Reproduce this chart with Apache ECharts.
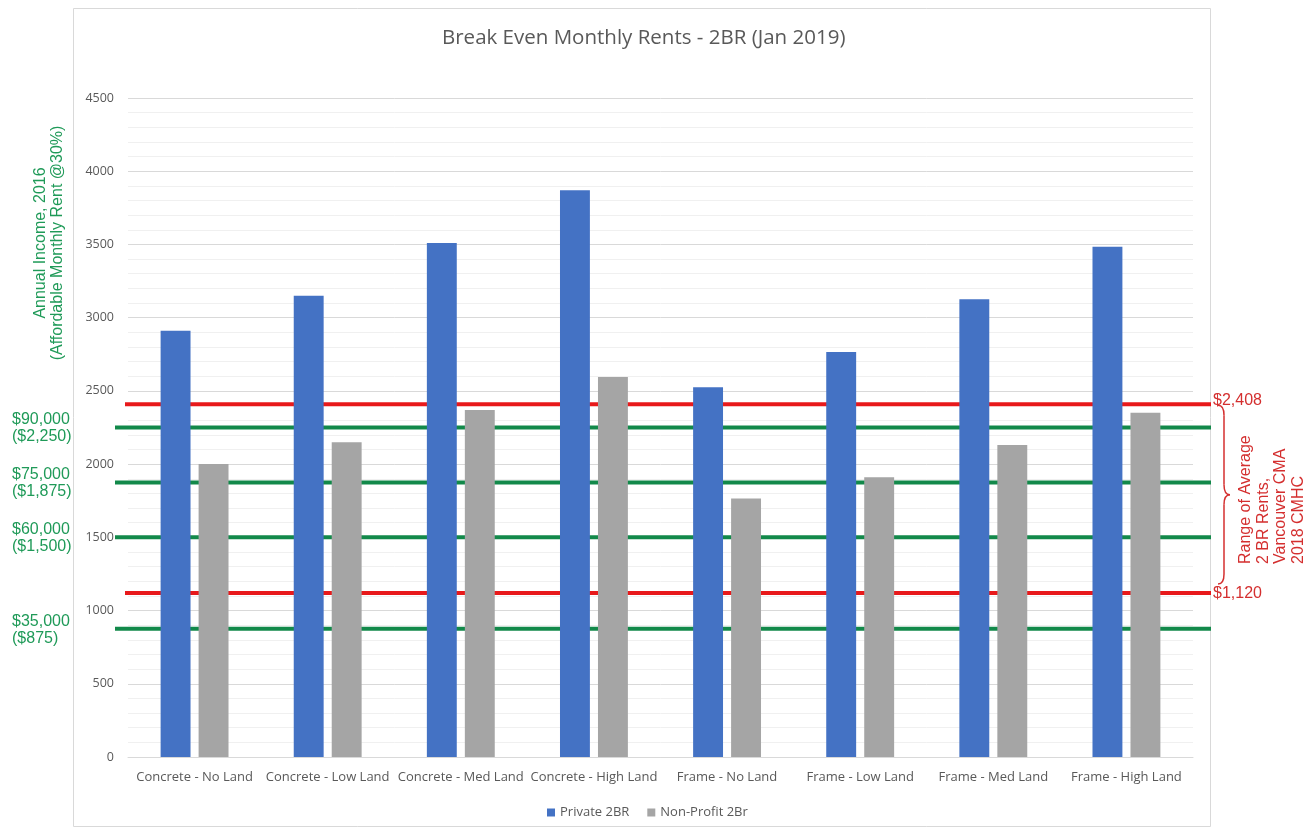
<!DOCTYPE html>
<html>
<head>
<meta charset="utf-8">
<title>Break Even Monthly Rents - 2BR (Jan 2019)</title>
<script src="https://cdn.jsdelivr.net/npm/echarts@6/dist/echarts.min.js"></script>
<style>
    html, body { margin: 0; padding: 0; background: #fff; }
    #chart { width: 1315px; height: 829px; }
</style>
</head>
<body>
<div id="chart"></div>
<script>
// categories and bar values (monthly rent, $)
var categories = ['Concrete - No Land', 'Concrete - Low Land', 'Concrete - Med Land', 'Concrete - High Land',
    'Frame - No Land', 'Frame - Low Land', 'Frame - Med Land', 'Frame - High Land'];
var privateRents = [2910, 3150, 3510, 3870, 2525, 2765, 3125, 3485];
var nonProfitRents = [2000, 2150, 2370, 2595, 1765, 1910, 2130, 2350];

// affordable rent at 30% of annual income (green lines)
var incomeLabels = ['$90,000', '$75,000', '$60,000', '$35,000'];
var incomeRents = [2250, 1875, 1500, 875];
var incomeRentLabels = ['($2,250)', '($1,875)', '($1,500)', '($875)'];

// range of average 2 BR rents (red lines)
var rangeRents = [2408, 1120];
var rangeLabels = ['$2,408', '$1,120'];

var GREEN_LINE = '#12894a';
var GREEN_TEXT = '#1f9a58';
var RED_LINE = '#e8191b';
var RED_TEXT = '#d42f2f';
var AXIS_TEXT = '#595959';
var FONT = '"Open Sans", "Liberation Sans", sans-serif';
var ARIAL = '"Liberation Sans", Arial, sans-serif';

var myChart = echarts.init(document.getElementById('chart'));

myChart.setOption({
    animation: false,
    backgroundColor: '#fff',
    title: {
        text: 'Break Even Monthly Rents - 2BR (Jan 2019)',
        left: 437,
        top: 23,
        textStyle: {
            fontFamily: FONT,
            fontWeight: 'normal',
            fontSize: 20.5,
            color: AXIS_TEXT
        }
    },
    legend: {
        left: 542,
        top: 801,
        icon: 'rect',
        itemWidth: 8,
        itemHeight: 8,
        itemGap: 18,
        textStyle: { fontFamily: FONT, fontSize: 13, color: AXIS_TEXT },
        data: ['Private 2BR', 'Non-Profit 2Br']
    },
    grid: {
        left: 128,
        right: 122,
        top: 98,
        bottom: 72
    },
    xAxis: {
        type: 'category',
        data: categories,
        axisTick: { show: false },
        axisLine: { lineStyle: { color: '#d9d9d9', width: 1 } },
        axisLabel: {
            interval: 0,
            margin: 14,
            fontFamily: FONT,
            fontSize: 13,
            color: AXIS_TEXT
        }
    },
    yAxis: {
        type: 'value',
        min: 0,
        max: 4500,
        interval: 500,
        axisLine: { show: false },
        axisTick: { show: false },
        axisLabel: {
            margin: 14,
            fontFamily: FONT,
            fontSize: 12.5,
            color: AXIS_TEXT,
            formatter: function(v) { return String(v); }
        },
        splitLine: { lineStyle: { color: '#d9d9d9', width: 1 } },
        minorTick: { show: false, splitNumber: 5 },
        minorSplitLine: { show: true, lineStyle: { color: '#f0f0f0', width: 1 } }
    },
    series: [{
        name: 'Private 2BR',
        type: 'bar',
        data: privateRents,
        barGap: '27%',
        barCategoryGap: '49%',
        itemStyle: { color: '#4472c4' }
    }, {
        name: 'Non-Profit 2Br',
        type: 'bar',
        data: nonProfitRents,
        itemStyle: { color: '#a5a5a5' }
    }]
});

// reference lines and notes, placed through the y axis scale
function yPix(v) {
    return myChart.convertToPixel({ yAxisIndex: 0 }, v);
}

var g = [];

// chart area border
g.push({
    type: 'rect',
    z: -1,
    shape: { x: 73.5, y: 8.5, width: 1137, height: 818 },
    style: { fill: null, stroke: '#d9d9d9', lineWidth: 1 }
});

incomeRents.forEach(function(v, i) {
    var y = yPix(v);
    g.push({
        type: 'line',
        shape: { x1: 115, y1: y, x2: 1211, y2: y },
        style: { stroke: GREEN_LINE, lineWidth: 4 }
    });
    g.push({
        type: 'text',
        x: 12,
        y: y + 1,
        style: {
            text: incomeLabels[i] + '\n' + incomeRentLabels[i],
            fill: GREEN_TEXT,
            font: '16px ' + ARIAL,
            lineHeight: 17,
            align: 'left',
            verticalAlign: 'middle'
        }
    });
});

rangeRents.forEach(function(v, i) {
    var y = yPix(v);
    g.push({
        type: 'line',
        shape: { x1: 125, y1: y, x2: 1211, y2: y },
        style: { stroke: RED_LINE, lineWidth: 4 }
    });
    g.push({
        type: 'text',
        x: 1213,
        y: i === 0 ? y - 4 : y + 1,
        style: {
            text: rangeLabels[i],
            fill: RED_TEXT,
            font: '16px ' + ARIAL,
            align: 'left',
            verticalAlign: 'middle'
        }
    });
});

// curly brace between the two red lines
var bTop = yPix(rangeRents[0]) + 1;
var bBot = yPix(rangeRents[1]) - 9;
var bMid = (bTop + bBot) / 2;
var x0 = 1218, xs = 1224, xt = 1230;
var braceStyle = { fill: null, stroke: RED_TEXT, lineWidth: 1.5 };
function braceCurve(x1, y1, cx, cy, x2, y2) {
    g.push({
        type: 'bezierCurve',
        shape: { x1: x1, y1: y1, x2: x2, y2: y2, cpx1: cx, cpy1: cy },
        style: braceStyle
    });
}
braceCurve(x0, bTop, xs, bTop, xs, bTop + 10);
braceCurve(xs, bMid - 10, xs, bMid, xt, bMid);
braceCurve(xt, bMid, xs, bMid, xs, bMid + 10);
braceCurve(xs, bBot - 10, xs, bBot, x0, bBot);
g.push({
    type: 'line',
    shape: { x1: xs, y1: bTop + 10, x2: xs, y2: bMid - 10 },
    style: braceStyle
});
g.push({
    type: 'line',
    shape: { x1: xs, y1: bMid + 10, x2: xs, y2: bBot - 10 },
    style: braceStyle
});

g.push({
    type: 'text',
    x: 1272,
    y: 564,
    rotation: Math.PI / 2,
    style: {
        text: 'Range of Average\n2 BR Rents,\nVancouver CMA\n2018 CMHC',
        fill: RED_TEXT,
        font: '16px ' + ARIAL,
        lineHeight: 17.5,
        align: 'left',
        verticalAlign: 'middle'
    }
});

// left axis note
g.push({
    type: 'text',
    x: 49,
    y: 243,
    rotation: Math.PI / 2,
    style: {
        text: 'Annual Income, 2016\n(Affordable Monthly Rent @30%)',
        fill: GREEN_TEXT,
        font: '16px ' + ARIAL,
        lineHeight: 16.5,
        align: 'center',
        verticalAlign: 'middle'
    }
});

myChart.setOption({ graphic: g });
</script>
</body>
</html>
